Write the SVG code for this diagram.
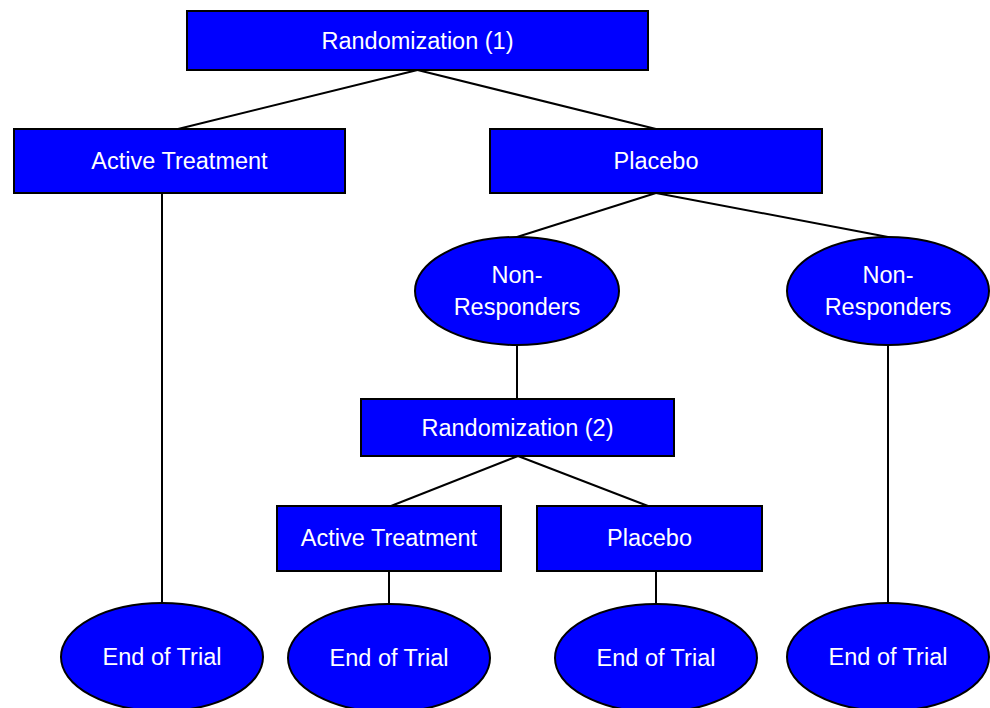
<svg xmlns="http://www.w3.org/2000/svg" width="990" height="708" viewBox="0 0 990 708">
<style>
.n{fill:#0000FF;stroke:#000;stroke-width:2}
.t{fill:#fff;font-family:"Liberation Sans",Arial,sans-serif;font-size:23.5px;text-anchor:middle}
.c line{stroke:#000;stroke-width:2}
</style>
<rect width="990" height="708" fill="#fff"/>
<g class="c" id="connectors">
<line x1="417.5" y1="70" x2="178" y2="129"/>
<line x1="417.5" y1="70" x2="656" y2="129"/>
<line x1="162" y1="193" x2="162" y2="603"/>
<line x1="656" y1="193" x2="517" y2="237"/>
<line x1="656" y1="193" x2="888" y2="237"/>
<line x1="517" y1="345" x2="517" y2="399"/>
<line x1="888" y1="345" x2="888" y2="603"/>
<line x1="518" y1="456" x2="391" y2="506"/>
<line x1="518" y1="456" x2="648" y2="506"/>
<line x1="389" y1="571" x2="389" y2="603"/>
<line x1="656" y1="571" x2="656" y2="603"/>
</g>
<g id="rand1"><rect class="n" x="187" y="11" width="461" height="59"/><text class="t" x="417.5" y="49">Randomization (1)</text></g>
<g id="active1"><rect class="n" x="14" y="129" width="331" height="64"/><text class="t" x="179.5" y="169">Active Treatment</text></g>
<g id="placebo1"><rect class="n" x="490" y="129" width="332" height="64"/><text class="t" x="656" y="169">Placebo</text></g>
<g id="nonresp1"><ellipse class="n" cx="517" cy="291" rx="102" ry="54"/><text class="t" x="517" y="283">Non-</text><text class="t" x="517" y="315">Responders</text></g>
<g id="nonresp2"><ellipse class="n" cx="888" cy="291" rx="101" ry="54"/><text class="t" x="888" y="283">Non-</text><text class="t" x="888" y="315">Responders</text></g>
<g id="rand2"><rect class="n" x="361" y="399" width="313" height="57"/><text class="t" x="517.5" y="436">Randomization (2)</text></g>
<g id="active2"><rect class="n" x="277" y="506" width="224" height="65"/><text class="t" x="389" y="546">Active Treatment</text></g>
<g id="placebo2"><rect class="n" x="537" y="506" width="225" height="65"/><text class="t" x="649.5" y="546">Placebo</text></g>
<g id="end1"><ellipse class="n" cx="162" cy="657" rx="101" ry="54"/><text class="t" x="162" y="665">End of Trial</text></g>
<g id="end2"><ellipse class="n" cx="389" cy="658" rx="101" ry="54"/><text class="t" x="389" y="666">End of Trial</text></g>
<g id="end3"><ellipse class="n" cx="656" cy="658" rx="101" ry="54"/><text class="t" x="656" y="666">End of Trial</text></g>
<g id="end4"><ellipse class="n" cx="888" cy="657" rx="101" ry="54"/><text class="t" x="888" y="665">End of Trial</text></g>
</svg>
